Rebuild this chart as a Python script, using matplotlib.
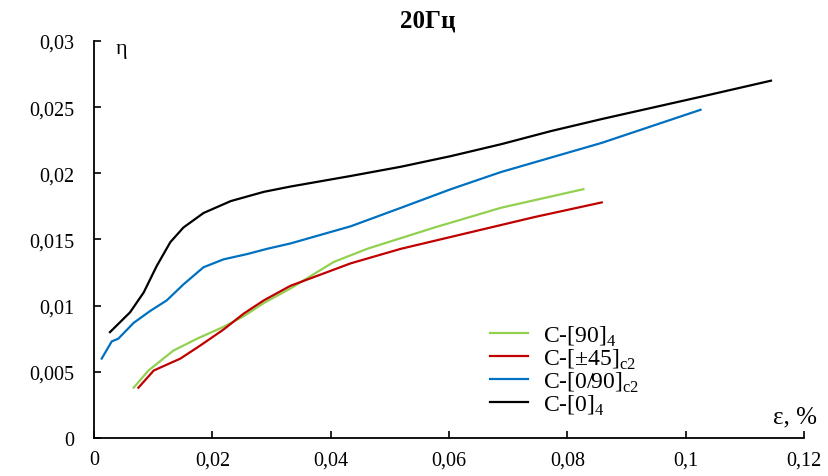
import matplotlib.pyplot as plt

# strain (%) and loss factor values
x_90 = [0.0067, 0.0092, 0.0134, 0.0174, 0.0219, 0.0253, 0.0287, 0.0332, 0.0405, 0.0462, 0.0575, 0.0688, 0.0827]
y_90 = [0.0038, 0.0051, 0.0066, 0.0075, 0.0084, 0.0092, 0.0102, 0.0113, 0.0133, 0.0143, 0.0159, 0.0174, 0.0188]

x_45 = [0.0075, 0.0101, 0.0146, 0.0180, 0.0219, 0.0253, 0.0287, 0.0332, 0.0434, 0.0519, 0.0632, 0.0745, 0.0858]
y_45 = [0.0038, 0.0051, 0.0060, 0.0070, 0.0082, 0.0094, 0.0104, 0.0115, 0.0132, 0.0143, 0.0155, 0.0167, 0.0178]

x_090 = [0.0013, 0.0030, 0.0041, 0.0067, 0.0095, 0.0123, 0.0151, 0.0185, 0.0219, 0.0259, 0.0293, 0.0332, 0.0434,
         0.0519, 0.0603, 0.0688, 0.0773, 0.0858, 0.1025]
y_090 = [0.0060, 0.0073, 0.0075, 0.0087, 0.0096, 0.0104, 0.0116, 0.0129, 0.0135, 0.0139, 0.0143, 0.0147, 0.0160,
         0.0174, 0.0188, 0.0201, 0.0212, 0.0223, 0.0248]

x_0 = [0.0027, 0.0061, 0.0084, 0.0106, 0.0129, 0.0151, 0.0185, 0.0231, 0.0287, 0.0332, 0.0434, 0.0519, 0.0603,
       0.0688, 0.0773, 0.0858, 0.1027, 0.1144]
y_0 = [0.0080, 0.0095, 0.0110, 0.0130, 0.0148, 0.0159, 0.0170, 0.0179, 0.0186, 0.0190, 0.0198, 0.0205, 0.0213,
       0.0222, 0.0232, 0.0241, 0.0258, 0.0270]

x_ticks = [0, 0.02, 0.04, 0.06, 0.08, 0.1, 0.12]
x_labels = ['0', '0,02', '0,04', '0,06', '0,08', '0,1', '0,12']
y_ticks = [0, 0.005, 0.01, 0.015, 0.02, 0.025, 0.03]
y_labels = ['0', '0,005', '0,01', '0,015', '0,02', '0,025', '0,03']

plt.rcParams['font.family'] = ['Liberation Serif', 'DejaVu Serif']
plt.rcParams['mathtext.fontset'] = 'custom'
plt.rcParams['mathtext.rm'] = 'Liberation Serif'

fig = plt.figure(figsize=(8.29, 4.77), dpi=100)
ax = fig.add_axes([0.1134, 0.0797, 0.8566, 0.8323])

ax.plot(x_90, y_90, color='#92D050', lw=1.6, label=r'C-[90]$_\mathrm{4}$')
ax.plot(x_45, y_45, color='#C00000', lw=1.6, label=r'C-[±45]$_\mathrm{c2}$')
ax.plot(x_090, y_090, color='#0070C0', lw=1.6, label=r'C-[0/90]$_\mathrm{c2}$')
ax.plot(x_0, y_0, color='black', lw=1.6, label=r'C-[0]$_\mathrm{4}$')

ax.set_xlim(0, 0.12)
ax.set_ylim(0, 0.03)
ax.set_xticks(x_ticks)
ax.set_xticklabels(x_labels)
ax.set_yticks(y_ticks)
ax.set_yticklabels(y_labels)
ax.tick_params(direction='in', length=5, width=1.2, labelsize=14.5)
ax.tick_params(axis='y', pad=14)
ax.tick_params(axis='x', pad=9)

ax.spines['top'].set_visible(False)
ax.spines['right'].set_visible(False)
ax.spines['left'].set_linewidth(1.3)
ax.spines['bottom'].set_linewidth(1.3)

ax.text(0.03, 0.98, 'η', transform=ax.transAxes, fontsize=16, va='center', ha='left')
ax.text(1.018, 0.055, 'ε, %', transform=ax.transAxes, fontsize=18, va='center', ha='right')
ax.set_title('20Гц', fontsize=18, fontweight='bold', x=0.47, y=1.015)

ax.legend(loc='lower left', bbox_to_anchor=(0.5577, 0.053), frameon=False, fontsize=17,
          handlelength=1.6, labelspacing=-0.05, handletextpad=0.65, borderaxespad=0, borderpad=0)

fig.savefig('out.png', dpi=100)
